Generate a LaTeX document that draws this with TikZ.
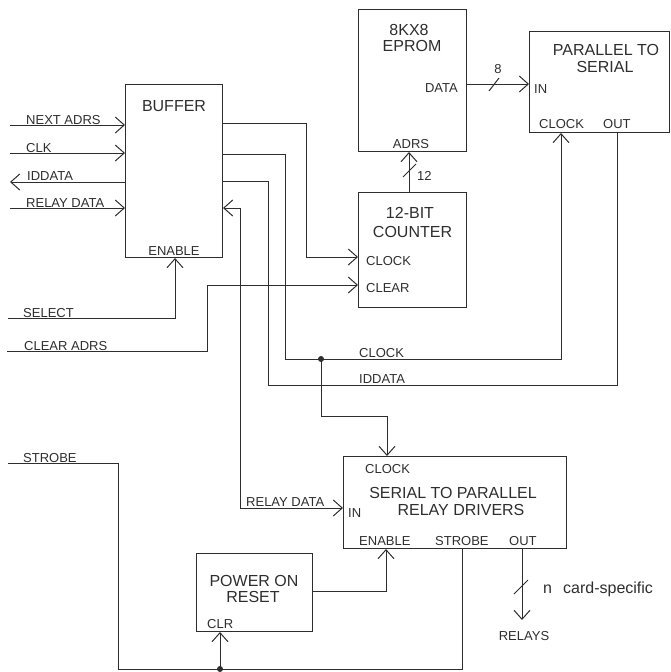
\documentclass[tikz,border=0pt]{standalone}
\usepackage{fontspec}
\setmainfont{Liberation Sans}
\usetikzlibrary{arrows.meta}
\definecolor{ink}{gray}{0.18}
\tikzset{
  blk/.style={draw=ink, rectangle, inner sep=0pt, anchor=north west, line width=1pt},
  ttl/.style={font=\fontsize{16}{18}\selectfont, text=ink, anchor=base, inner sep=0pt},
  lbl/.style={font=\fontsize{13}{15}\selectfont, text=ink, anchor=base west, inner sep=0pt},
  lblc/.style={lbl, anchor=base},
  lble/.style={lbl, anchor=base east},
  wire/.style={draw=ink, line width=1pt},
  arr/.style={-{Straight Barb[length=9pt,width=16pt]}},
  arrb/.style={{Straight Barb[length=9pt,width=16pt]}-{Straight Barb[length=9pt,width=16pt]}},
  busmark/.style={draw=ink, line width=1pt},
}
\begin{document}
\begin{tikzpicture}[x=1pt,y=-1pt]
\useasboundingbox (0,0) rectangle (671,672);

% blocks
\node[blk, minimum width=97pt, minimum height=173pt] (buf) at (125,84) {};
\node[blk, minimum width=108pt, minimum height=142pt] (eprom) at (358,9) {};
\node[blk, minimum width=140pt, minimum height=101pt] (p2s) at (529,31) {};
\node[blk, minimum width=108pt, minimum height=115pt] (cnt) at (358,192) {};
\node[blk, minimum width=223pt, minimum height=92pt] (s2p) at (343,456) {};
\node[blk, minimum width=116pt, minimum height=78pt] (por) at (196,553) {};

% ports
\coordinate (bufO1) at (buf.east |- 0,123);
\coordinate (bufO2) at (buf.east |- 0,154);
\coordinate (bufO3) at (buf.east |- 0,181);
\coordinate (bufI4) at (buf.east |- 0,208);
\coordinate (bufNA) at (buf.west |- 0,125);
\coordinate (bufCK) at (buf.west |- 0,153);
\coordinate (bufID) at (buf.west |- 0,182);
\coordinate (bufRD) at (buf.west |- 0,208);
\coordinate (bufEN) at (buf.south -| 175,0);
\coordinate (cntCK) at (cnt.west |- 0,257);
\coordinate (cntCL) at (cnt.west |- 0,285);
\coordinate (cntTop) at (cnt.north -| 409,0);
\coordinate (epAD) at (eprom.south -| 409,0);
\coordinate (epDA) at (eprom.east |- 0,84);
\coordinate (p2sIN) at (p2s.west |- 0,84);
\coordinate (p2sCK) at (p2s.south -| 561,0);
\coordinate (p2sOUT) at (p2s.south -| 617,0);
\coordinate (s2pCK) at (s2p.north -| 387,0);
\coordinate (s2pIN) at (s2p.west |- 0,508);
\coordinate (s2pEN) at (s2p.south -| 386,0);
\coordinate (s2pST) at (s2p.south -| 462,0);
\coordinate (s2pOUT) at (s2p.south -| 522,0);
\coordinate (porE) at (por.east |- 0,591);
\coordinate (porCLR) at (por.south -| 220,0);

% free ends
\coordinate (xNA) at (10,125);
\coordinate (xCK) at (10,153);
\coordinate (xID) at (10,182);
\coordinate (xRD) at (10,208);
\coordinate (xSEL) at (8,318);
\coordinate (xCA) at (7,351);
\coordinate (xST) at (8,463);
\coordinate (relEnd) at (522,620);
\coordinate (dA) at (321,359);
\coordinate (dB) at (220,669);

% connectors
\draw[wire,arr] (xNA) -- (bufNA);
\draw[wire,arr] (xCK) -- (bufCK);
\draw[wire,arr] (bufID) -- (xID);
\draw[wire,arr] (xRD) -- (bufRD);
\draw[wire,arr] (xSEL) -| (bufEN);
\draw[wire,arr] (xCA) -| (207,285) -- (cntCL);
\draw[wire,arr] (bufO1) -| (306,257) -- (cntCK);
\draw[wire,arr] (bufO2) -| (285,359) -| (p2sCK);
\draw[wire] (p2sOUT) |- (268,385) |- (bufO3);
\draw[wire,arrb] (bufI4) -- (240,208) |- (s2pIN);
\draw[wire,arr] (dA) -- (321,416) -| (s2pCK);
\draw[wire,arr] (epDA) -- (p2sIN);
\draw[wire,arr] (cntTop) -- (epAD);
\draw[wire] (xST) -| (118,669) -| (s2pST);
\draw[wire,arr] (dB) -- (porCLR);
\draw[wire,arr] (porE) -| (s2pEN);
\draw[wire,arr] (s2pOUT) -- (relEnd);
\fill[ink] (dA) circle (3pt);
\fill[ink] (dB) circle (3pt);

% bus marks
\draw[busmark] (489,91) -- (499,78);
\draw[busmark] (403,177) -- (416,164);
\draw[busmark] (514,594) -- (528,580);

% texts
\node[ttl] (tBuf) at (174,111) {BUFFER};
\node[lblc] (tBufEn) at (174,255) {ENABLE};
\node[ttl] (tEp1) at (409,35) {8KX8};
\node[ttl] (tEp2) at (412,51) {EPROM};
\node[lble] (tData) at (458,92) {DATA};
\node[lblc] (tAdrs) at (411,148) {ADRS};
\node[lblc] (t8) at (498,73) {8};
\node[ttl] (tP1) at (606,55) {PARALLEL TO};
\node[ttl] (tP2) at (605,72) {SERIAL};
\node[lbl] (tPin) at (534,93) {IN};
\node[lbl] (tPck) at (539,128) {CLOCK};
\node[lbl] (tPout) at (603,128) {OUT};
\node[ttl] (tC1) at (410,218) {12-BIT};
\node[ttl] (tC2) at (412.5,237) {COUNTER};
\node[lbl] (tCck) at (366,265) {CLOCK};
\node[lbl] (tCcl) at (366,292) {CLEAR};
\node[lbl] (t12) at (417,180) {12};
\node[lbl] (tSck) at (365,473) {CLOCK};
\node[ttl] (tS1) at (453,498) {SERIAL TO PARALLEL};
\node[ttl] (tS2) at (461,515) {RELAY DRIVERS};
\node[lbl] (tSin) at (348,517) {IN};
\node[lbl] (tSen) at (359,545) {ENABLE};
\node[lbl] (tSst) at (435,545) {STROBE};
\node[lbl] (tSout) at (509,545) {OUT};
\node[ttl] (tR1) at (254,586) {POWER ON};
\node[ttl] (tR2) at (253,602) {RESET};
\node[lbl] (tClr) at (207,628) {CLR};
\node[ttl, anchor=base west] (tN) at (543,593) {n};
\node[ttl, anchor=base west] (tCard) at (563,593) {card-specific};
\node[lblc] (tRel) at (524,640) {RELAYS};
\node[lbl] (tNA) at (26,124) {NEXT ADRS};
\node[lbl] (tCLK) at (26,152) {CLK};
\node[lbl] (tID) at (27,180) {IDDATA};
\node[lbl] (tRD) at (26,207) {RELAY DATA};
\node[lbl] (tSEL) at (23,317) {SELECT};
\node[lbl] (tCA) at (24,350) {CLEAR ADRS};
\node[lbl] (tST) at (23,462) {STROBE};
\node[lbl] (tMck) at (359,357) {CLOCK};
\node[lbl] (tMid) at (359,383) {IDDATA};
\node[lbl] (tMrd) at (246,506) {RELAY DATA};
\end{tikzpicture}
\end{document}
